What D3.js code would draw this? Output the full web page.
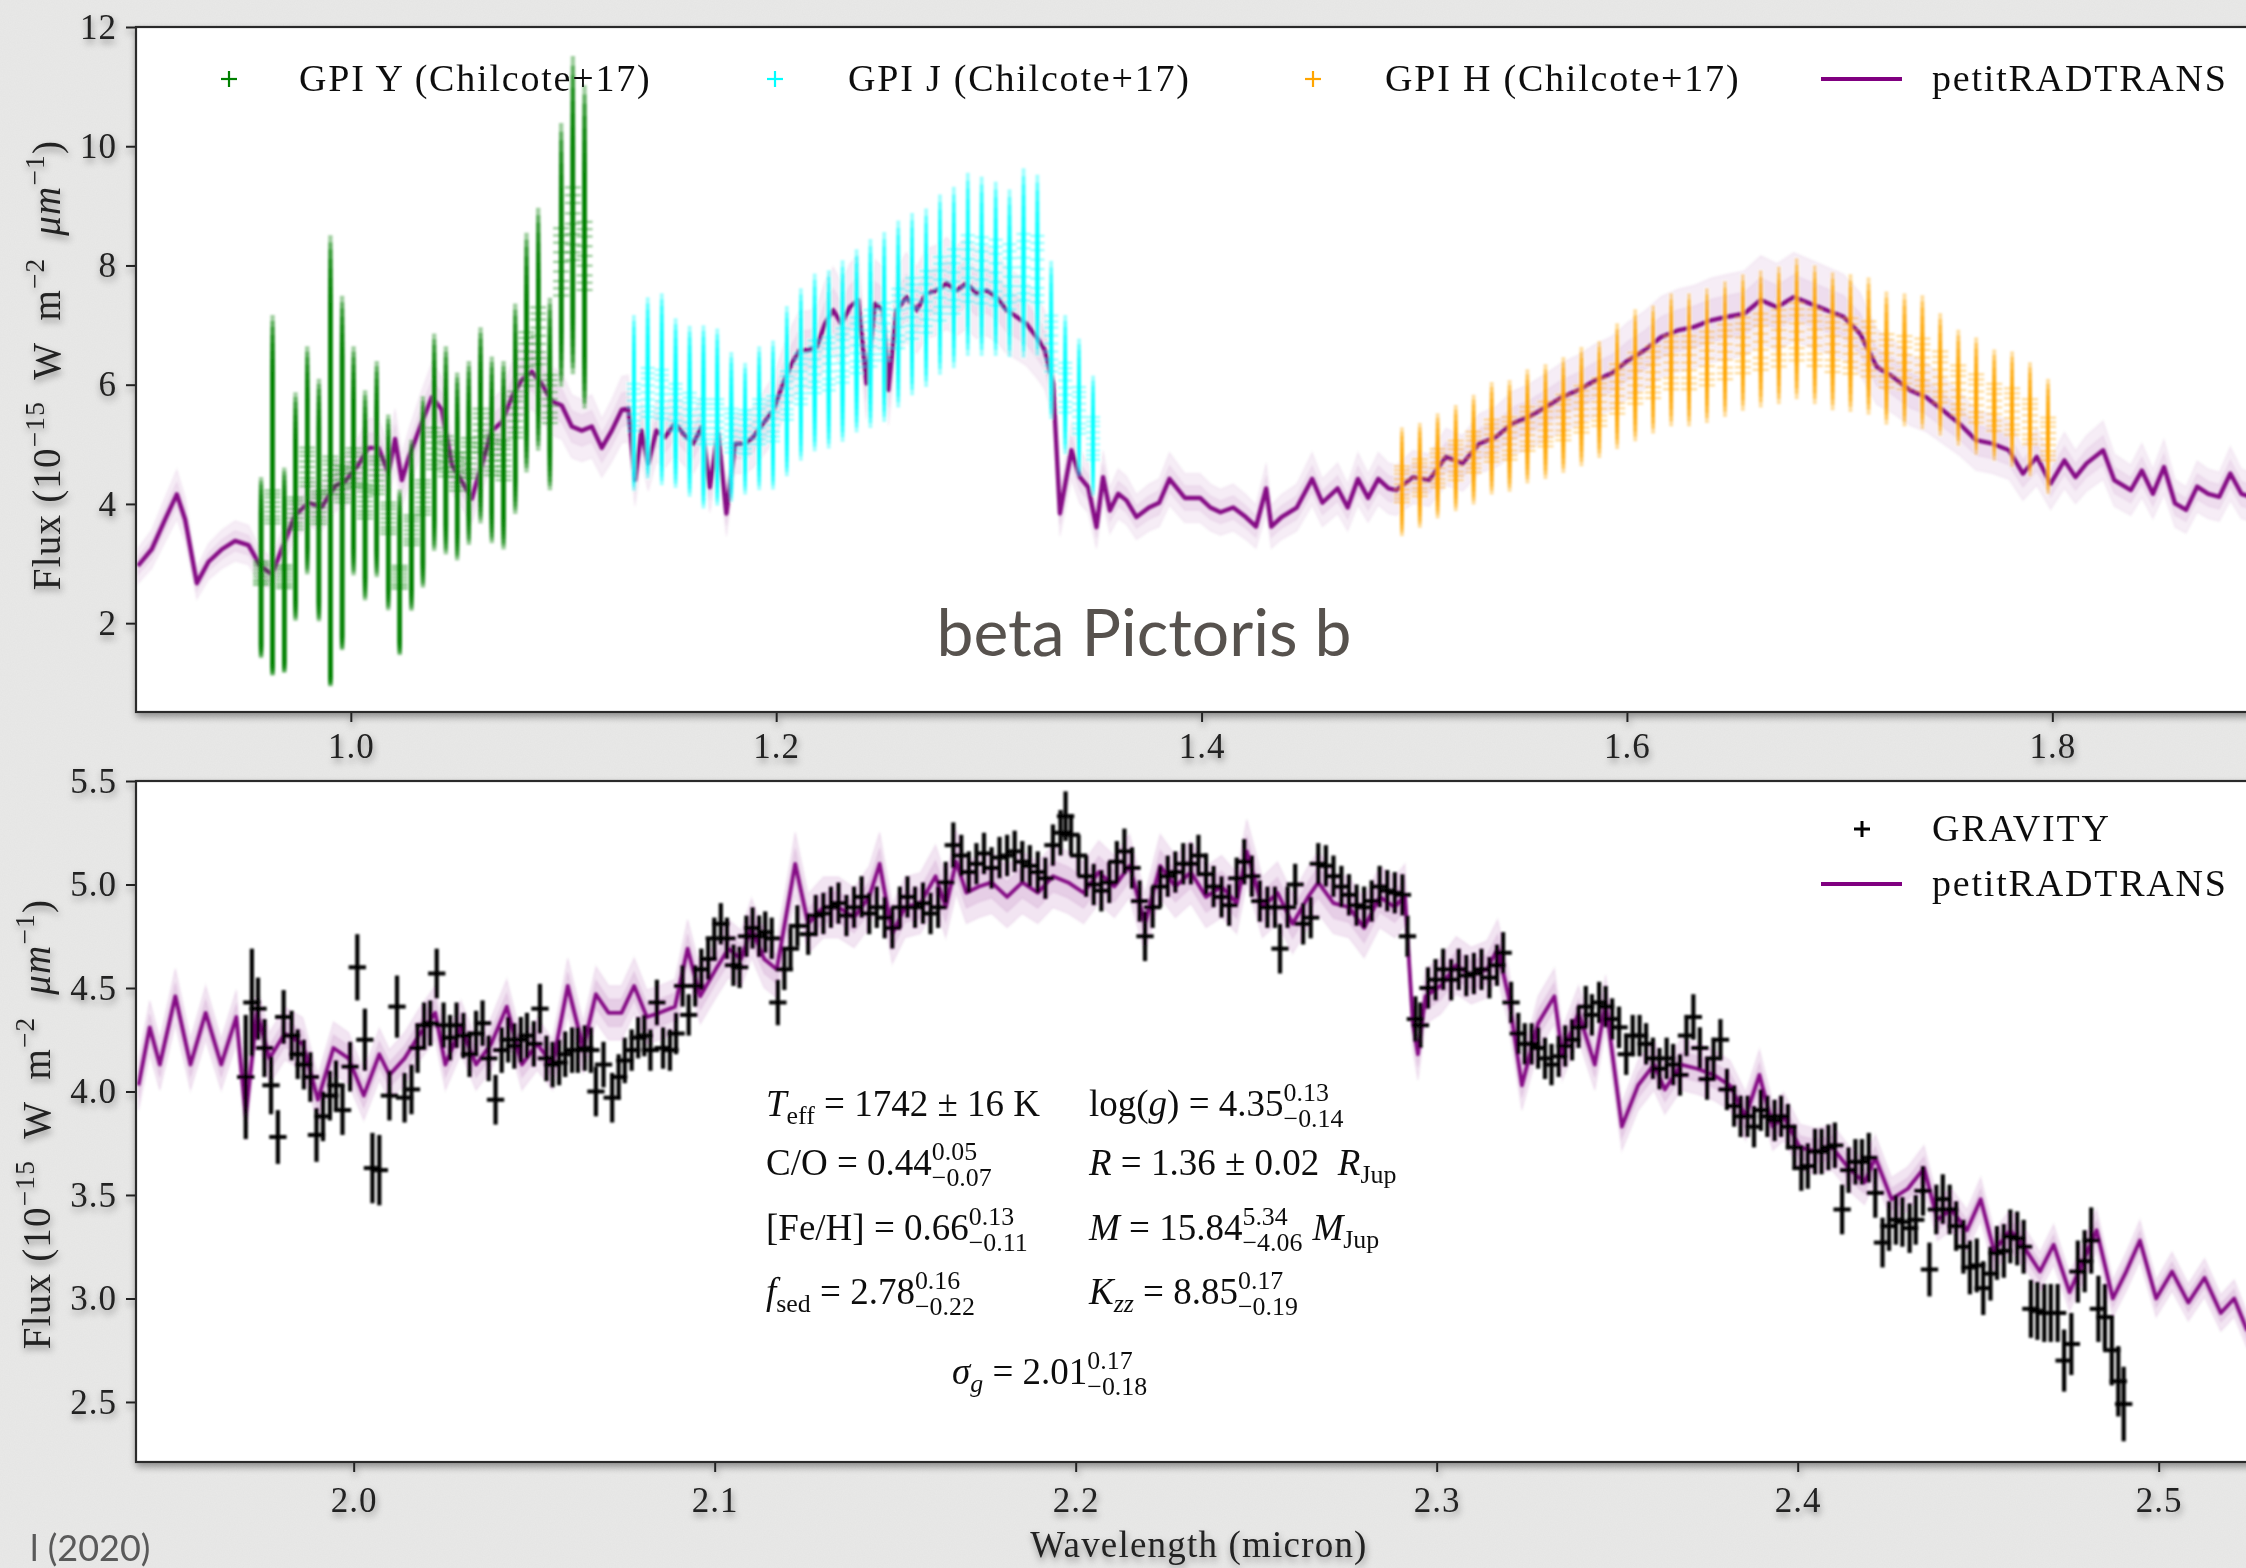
<!DOCTYPE html>
<html>
<head>
<meta charset="utf-8">
<script src="https://cdn.jsdelivr.net/npm/d3@7"></script>
<style>
  html, body { margin: 0; padding: 0; background: #e9e9e8; }
  svg { display: block; }
  svg text { white-space: pre; }
</style>
</head>
<body>
<svg id="fig" width="2246" height="1568"></svg>
<script>
// ---------------- GPI spectra (Chilcote+17) ----------------
const gpiY_wl = [0.9578,0.9632,0.9687,0.9740,0.9795,0.9850,0.9904,0.9959,1.0013,1.0067,1.0122,1.0176,1.0230,1.0285,1.0339,1.0392,1.0447,1.0500,1.0555,1.0610,1.0663,1.0718,1.0773,1.0826,1.0881,1.0936,1.0989,1.1044,1.1099];
const gpiY_flux = [2.84,3.95,2.78,3.84,4.62,3.94,4.48,4.33,4.61,4.04,4.48,3.76,2.77,3.56,4.11,4.93,4.80,4.54,4.77,5.23,4.82,4.73,5.50,6.43,6.82,5.76,8.06,8.70,8.16];
const gpiY_err = [1.32,2.75,1.53,1.65,1.59,1.76,3.47,2.67,1.60,1.48,1.50,1.38,1.20,1.19,1.32,1.48,1.41,1.26,1.21,1.28,1.23,1.25,1.38,1.56,1.56,1.21,1.65,2.06,2.14];

const gpiJ_wl = [1.1331,1.1396,1.1462,1.1527,1.1593,1.1658,1.1723,1.1789,1.1854,1.1920,1.1985,1.2050,1.2116,1.2181,1.2247,1.2312,1.2378,1.2443,1.2508,1.2574,1.2639,1.2705,1.2770,1.2835,1.2901,1.2966,1.3032,1.3097,1.3163,1.3228,1.3293,1.3359,1.3424,1.3490];
const gpiJ_flux = [5.62,5.87,5.84,5.62,5.48,5.38,5.38,5.23,5.21,5.38,5.43,5.82,6.10,6.30,6.35,6.49,6.66,6.78,6.89,7.11,7.28,7.39,7.61,7.73,7.95,7.92,7.88,7.81,7.97,7.94,6.69,5.95,5.57,5.10];
const gpiJ_err = [1.08,1.11,1.20,1.03,1.05,1.16,1.11,0.89,0.74,0.83,0.87,1.02,1.02,1.05,1.05,1.07,1.07,1.11,1.11,1.07,1.02,0.98,0.98,0.98,0.98,0.95,0.91,0.86,1.03,0.96,0.86,0.75,0.76,0.65];

const gpiH_wl = [1.4942,1.5026,1.5110,1.5195,1.5279,1.5364,1.5448,1.5532,1.5617,1.5701,1.5786,1.5870,1.5954,1.6039,1.6123,1.6208,1.6292,1.6376,1.6461,1.6545,1.6629,1.6714,1.6798,1.6883,1.6967,1.7051,1.7136,1.7220,1.7305,1.7389,1.7473,1.7558,1.7642,1.7727,1.7811,1.7895,1.7980];
const gpiH_flux = [4.33,4.44,4.60,4.73,4.87,5.06,5.10,5.26,5.34,5.45,5.59,5.71,5.93,6.11,6.21,6.37,6.37,6.44,6.55,6.66,6.72,6.78,6.89,6.79,6.68,6.65,6.60,6.40,6.37,6.33,6.13,5.91,5.77,5.62,5.55,5.38,5.09];
const gpiH_err = [0.61,0.57,0.56,0.56,0.58,0.59,0.58,0.59,0.59,0.59,0.61,0.58,0.64,0.68,0.64,0.67,0.67,0.68,0.68,0.68,0.68,0.68,0.70,0.69,0.69,0.69,0.69,0.67,0.67,0.68,0.60,0.56,0.58,0.54,0.58,0.58,0.61];

// posterior draws of the per-band flux scaling factor
const scaleSamples = [0.93,0.945,0.96,0.98,1.00,1.02,1.04,1.055,1.07];

// ---------------- petitRADTRANS best fit, 0.9-1.9 micron ----------------
const modelTop_wl = [0.8999,0.9064,0.9127,0.9182,0.9221,0.9276,0.9331,0.9394,0.9456,0.9519,0.9574,0.9629,0.9683,0.9738,0.9801,0.9864,0.9926,0.9973,1.0036,1.0083,1.0130,1.0177,1.0208,1.0240,1.0275,1.0334,1.0381,1.0428,1.0475,1.0522,1.0569,1.0616,1.0663,1.0710,1.0757,1.0804,1.0851,1.0898,1.0945,1.0992,1.1039,1.1086,1.1133,1.1180,1.1227,1.1274,1.1305,1.1336,1.1367,1.1398,1.1437,1.1477,1.1524,1.1563,1.1610,1.1649,1.1688,1.1727,1.1766,1.1806,1.1853,1.1892,1.1939,1.1986,1.2033,1.2072,1.2111,1.2150,1.2190,1.2229,1.2268,1.2307,1.2346,1.2385,1.2425,1.2464,1.2503,1.2527,1.2566,1.2613,1.2660,1.2707,1.2754,1.2801,1.2848,1.2895,1.2942,1.2989,1.3036,1.3083,1.3130,1.3177,1.3224,1.3263,1.3302,1.3334,1.3388,1.3428,1.3467,1.3506,1.3537,1.3569,1.3608,1.3647,1.3694,1.3753,1.3801,1.3849,1.3921,1.3993,1.4041,1.4089,1.4149,1.4208,1.4256,1.4304,1.4328,1.4376,1.4448,1.4520,1.4568,1.4640,1.4687,1.4735,1.4783,1.4831,1.4879,1.4916,1.4994,1.5071,1.5149,1.5228,1.5305,1.5383,1.5461,1.5539,1.5617,1.5694,1.5772,1.5850,1.5928,1.6006,1.6084,1.6161,1.6239,1.6317,1.6395,1.6473,1.6551,1.6629,1.6706,1.6784,1.6862,1.6940,1.7018,1.7096,1.7174,1.7251,1.7329,1.7407,1.7485,1.7563,1.7641,1.7719,1.7797,1.7862,1.7927,1.7992,1.8057,1.8109,1.8161,1.8239,1.8291,1.8369,1.8421,1.8473,1.8525,1.8577,1.8629,1.8681,1.8733,1.8785,1.8837,1.8889,1.8950];
const modelTop_flux = [2.96,3.24,3.74,4.16,3.74,2.67,3.03,3.24,3.38,3.31,2.96,2.82,3.31,3.81,4.02,3.95,4.30,4.38,4.66,4.94,4.94,4.52,5.09,4.40,4.80,5.37,5.79,5.58,4.66,4.38,4.09,4.66,5.23,5.37,5.79,6.08,6.22,6.01,5.72,5.65,5.30,5.23,5.30,4.94,5.23,5.58,5.60,4.40,5.23,4.68,5.23,5.12,5.35,5.18,5.01,5.29,4.28,5.18,3.84,5.01,5.01,5.12,5.35,5.57,6.02,6.35,6.58,6.58,6.63,7.02,7.25,7.02,7.30,7.42,6.02,7.36,7.25,5.91,7.25,7.47,7.25,7.53,7.58,7.70,7.58,7.70,7.53,7.58,7.47,7.25,7.14,7.02,6.80,6.58,6.02,3.84,4.90,4.45,4.28,3.61,4.45,3.89,4.17,4.06,3.78,3.94,4.02,4.42,4.10,4.10,3.94,3.86,3.94,3.78,3.62,4.26,3.62,3.78,3.94,4.42,4.02,4.26,3.94,4.42,4.10,4.42,4.26,4.23,4.45,4.40,4.79,4.68,5.01,5.12,5.35,5.46,5.62,5.79,5.91,6.07,6.19,6.41,6.58,6.80,6.91,6.97,7.08,7.14,7.19,7.42,7.30,7.47,7.36,7.25,7.14,6.86,6.30,6.13,5.91,5.79,5.57,5.35,5.07,5.01,4.90,4.51,4.79,4.34,4.73,4.45,4.68,4.90,4.40,4.23,4.56,4.17,4.62,4.01,3.90,4.29,4.17,4.12,4.51,4.17,4.10];

// ---------------- GRAVITY K-band spectrum ----------------
const gravity_wl = [1.9701,1.9718,1.9735,1.9753,1.9771,1.9790,1.9806,1.9828,1.9845,1.9862,1.9880,1.9897,1.9915,1.9934,1.9951,1.9969,1.9990,2.0010,2.0031,2.0052,2.0071,2.0099,2.0120,2.0141,2.0160,2.0177,2.0195,2.0212,2.0230,2.0249,2.0267,2.0285,2.0304,2.0321,2.0339,2.0357,2.0374,2.0393,2.0410,2.0428,2.0445,2.0463,2.0480,2.0499,2.0516,2.0534,2.0551,2.0569,2.0586,2.0605,2.0621,2.0640,2.0657,2.0671,2.0692,2.0716,2.0734,2.0751,2.0770,2.0788,2.0805,2.0822,2.0840,2.0857,2.0876,2.0893,2.0911,2.0928,2.0946,2.0963,2.0982,2.0999,2.1017,2.1034,2.1052,2.1069,2.1088,2.1105,2.1123,2.1140,2.1158,2.1175,2.1193,2.1210,2.1229,2.1259,2.1280,2.1301,2.1322,2.1343,2.1365,2.1386,2.1407,2.1428,2.1449,2.1471,2.1492,2.1513,2.1534,2.1555,2.1577,2.1598,2.1619,2.1640,2.1661,2.1683,2.1704,2.1725,2.1746,2.1767,2.1789,2.1810,2.1831,2.1852,2.1873,2.1895,2.1916,2.1937,2.1958,2.1972,2.1987,2.2008,2.2029,2.2050,2.2071,2.2093,2.2114,2.2135,2.2156,2.2177,2.2192,2.2213,2.2234,2.2255,2.2276,2.2298,2.2319,2.2340,2.2361,2.2382,2.2404,2.2425,2.2446,2.2467,2.2488,2.2510,2.2531,2.2552,2.2566,2.2587,2.2608,2.2630,2.2651,2.2672,2.2693,2.2714,2.2736,2.2757,2.2778,2.2799,2.2820,2.2842,2.2863,2.2884,2.2905,2.2919,2.2941,2.2955,2.2976,2.2997,2.3018,2.3040,2.3061,2.3082,2.3103,2.3124,2.3146,2.3167,2.3184,2.3206,2.3226,2.3244,2.3263,2.3281,2.3300,2.3318,2.3338,2.3356,2.3375,2.3393,2.3413,2.3430,2.3450,2.3468,2.3486,2.3505,2.3525,2.3543,2.3562,2.3580,2.3599,2.3617,2.3637,2.3655,2.3674,2.3692,2.3711,2.3729,2.3749,2.3767,2.3786,2.3804,2.3824,2.3842,2.3861,2.3879,2.3898,2.3916,2.3936,2.3954,2.3973,2.3991,2.4010,2.4028,2.4048,2.4066,2.4085,2.4103,2.4123,2.4141,2.4160,2.4178,2.4197,2.4215,2.4235,2.4253,2.4272,2.4290,2.4310,2.4327,2.4347,2.4365,2.4384,2.4402,2.4421,2.4439,2.4459,2.4477,2.4496,2.4514,2.4534,2.4552,2.4571,2.4589,2.4608,2.4626,2.4646,2.4664,2.4683,2.4701,2.4720,2.4738,2.4758,2.4776,2.4795,2.4813,2.4833,2.4851,2.4870,2.4888,2.4903];
const gravity_flux = [4.07,4.43,4.40,4.21,4.03,3.78,4.36,4.27,4.18,4.13,4.07,3.79,3.88,3.98,4.03,3.91,4.12,4.60,4.25,3.63,3.62,3.98,4.41,3.97,4.01,4.21,4.32,4.33,4.57,4.32,4.26,4.32,4.27,4.18,4.28,4.33,4.16,3.96,4.20,4.25,4.22,4.25,4.27,4.23,4.40,4.16,4.13,4.14,4.18,4.20,4.20,4.21,4.20,4.00,4.13,3.97,4.07,4.15,4.20,4.26,4.27,4.20,4.43,4.21,4.20,4.28,4.51,4.37,4.51,4.59,4.64,4.74,4.81,4.74,4.61,4.60,4.75,4.79,4.75,4.77,4.74,4.43,4.59,4.69,4.80,4.76,4.85,4.86,4.89,4.91,4.85,4.89,4.94,4.86,4.89,4.84,4.79,4.89,4.94,4.89,4.91,4.86,4.89,5.01,5.19,5.14,5.06,5.10,5.15,5.08,5.13,5.14,5.16,5.11,5.09,5.06,5.03,5.19,5.25,5.33,5.24,5.14,5.04,5.00,4.97,5.01,5.11,5.16,5.08,4.92,4.75,4.89,4.99,5.04,5.06,5.10,5.10,5.14,5.05,4.99,4.94,4.90,5.03,5.11,5.04,4.92,4.89,4.89,4.69,4.89,5.00,4.81,4.84,5.10,5.09,5.04,4.99,4.95,4.90,4.89,4.92,4.99,4.97,4.96,4.95,4.75,4.35,4.32,4.50,4.54,4.59,4.54,4.59,4.56,4.57,4.59,4.55,4.61,4.67,4.43,4.28,4.23,4.23,4.21,4.16,4.13,4.17,4.22,4.25,4.31,4.41,4.37,4.43,4.41,4.35,4.31,4.18,4.27,4.27,4.23,4.16,4.11,4.16,4.13,4.08,4.27,4.36,4.21,4.06,4.16,4.25,4.01,3.93,3.88,3.88,3.83,3.91,3.88,3.86,3.88,3.83,3.73,3.63,3.64,3.71,3.71,3.73,3.74,3.43,3.62,3.66,3.66,3.68,3.51,3.27,3.35,3.38,3.37,3.34,3.38,3.52,3.14,3.43,3.48,3.43,3.35,3.25,3.15,3.16,3.05,3.12,3.22,3.23,3.30,3.29,3.25,2.95,2.94,2.93,2.93,2.93,2.70,2.78,3.13,3.18,3.28,2.95,2.91,2.75,2.60,2.49];
const gravity_err = [0.30,0.26,0.15,0.14,0.14,0.13,0.13,0.12,0.12,0.12,0.12,0.13,0.12,0.12,0.12,0.12,0.12,0.16,0.15,0.17,0.17,0.12,0.15,0.12,0.12,0.12,0.11,0.11,0.12,0.11,0.11,0.11,0.11,0.11,0.11,0.11,0.11,0.12,0.11,0.11,0.11,0.11,0.11,0.11,0.12,0.11,0.11,0.11,0.11,0.11,0.11,0.11,0.11,0.12,0.11,0.12,0.11,0.11,0.10,0.10,0.10,0.10,0.11,0.10,0.10,0.10,0.10,0.10,0.10,0.10,0.10,0.10,0.10,0.10,0.10,0.10,0.10,0.10,0.10,0.10,0.10,0.11,0.10,0.10,0.10,0.10,0.10,0.10,0.10,0.10,0.10,0.10,0.10,0.10,0.10,0.10,0.10,0.10,0.10,0.10,0.10,0.10,0.10,0.10,0.11,0.10,0.10,0.10,0.10,0.10,0.10,0.10,0.10,0.10,0.10,0.10,0.10,0.10,0.11,0.12,0.10,0.10,0.10,0.10,0.10,0.10,0.10,0.11,0.10,0.10,0.12,0.10,0.10,0.10,0.10,0.10,0.10,0.10,0.10,0.10,0.10,0.10,0.10,0.11,0.10,0.10,0.10,0.10,0.12,0.10,0.10,0.10,0.10,0.10,0.10,0.10,0.10,0.10,0.10,0.10,0.10,0.10,0.10,0.10,0.10,0.10,0.11,0.11,0.10,0.10,0.10,0.10,0.10,0.10,0.10,0.10,0.10,0.10,0.10,0.10,0.10,0.10,0.10,0.10,0.10,0.10,0.10,0.10,0.10,0.10,0.10,0.10,0.10,0.10,0.10,0.10,0.10,0.10,0.10,0.10,0.10,0.10,0.10,0.10,0.10,0.10,0.11,0.10,0.10,0.10,0.10,0.10,0.10,0.10,0.10,0.10,0.10,0.10,0.10,0.10,0.11,0.11,0.11,0.11,0.11,0.11,0.11,0.11,0.12,0.11,0.11,0.11,0.12,0.12,0.12,0.12,0.12,0.12,0.12,0.12,0.12,0.13,0.12,0.12,0.12,0.12,0.13,0.13,0.13,0.13,0.13,0.13,0.13,0.13,0.13,0.13,0.14,0.14,0.14,0.14,0.14,0.15,0.15,0.15,0.15,0.16,0.16,0.16,0.17,0.17,0.18];
const gravityBinHalf = 0.0024;

// ---------------- petitRADTRANS best fit, K band ----------------
const modelBot_wl = [1.9404,1.9435,1.9463,1.9506,1.9548,1.9590,1.9633,1.9675,1.9701,1.9732,1.9767,1.9809,1.9859,1.9901,1.9944,1.9986,2.0028,2.0071,2.0099,2.0141,2.0184,2.0226,2.0254,2.0297,2.0339,2.0381,2.0424,2.0466,2.0508,2.0551,2.0593,2.0636,2.0671,2.0706,2.0742,2.0777,2.0812,2.0847,2.0890,2.0925,2.0960,2.1003,2.1038,2.1073,2.1102,2.1137,2.1172,2.1223,2.1259,2.1301,2.1343,2.1386,2.1428,2.1457,2.1492,2.1527,2.1570,2.1612,2.1640,2.1669,2.1697,2.1732,2.1767,2.1810,2.1852,2.1895,2.1937,2.1979,2.2022,2.2064,2.2107,2.2149,2.2192,2.2234,2.2276,2.2319,2.2361,2.2404,2.2446,2.2474,2.2517,2.2559,2.2601,2.2644,2.2672,2.2714,2.2757,2.2799,2.2842,2.2884,2.2912,2.2934,2.2948,2.2969,2.3011,2.3054,2.3096,2.3139,2.3169,2.3199,2.3236,2.3281,2.3326,2.3348,2.3393,2.3438,2.3468,2.3513,2.3558,2.3602,2.3632,2.3677,2.3722,2.3767,2.3812,2.3856,2.3894,2.3931,2.3961,2.4006,2.4051,2.4096,2.4141,2.4185,2.4215,2.4260,2.4305,2.4350,2.4387,2.4425,2.4469,2.4507,2.4544,2.4589,2.4634,2.4671,2.4709,2.4753,2.4791,2.4828,2.4873,2.4910,2.4948,2.4993,2.5037,2.5082,2.5127,2.5172,2.5209,2.5244,2.5300];
const modelBot_flux = [4.03,4.31,4.13,4.46,4.13,4.38,4.13,4.36,3.88,4.38,4.16,4.28,4.23,3.96,4.21,4.16,3.98,4.18,4.08,4.16,4.28,4.38,4.13,4.31,4.13,4.23,4.41,4.13,4.23,4.13,4.51,4.21,4.47,4.38,4.38,4.51,4.36,4.38,4.41,4.69,4.46,4.59,4.69,4.64,4.79,4.64,4.59,5.10,4.81,4.89,4.89,4.84,4.94,5.10,4.76,4.89,4.91,5.04,4.89,5.11,4.96,4.99,5.01,4.94,5.01,4.96,5.04,5.01,4.96,5.06,4.99,5.09,4.81,5.09,4.99,5.06,4.94,4.99,4.91,5.16,4.89,4.96,4.81,4.94,5.01,4.91,4.89,4.79,4.94,4.89,4.95,4.33,4.18,4.46,4.51,4.61,4.56,4.59,4.69,4.46,4.03,4.33,4.46,4.18,4.38,4.13,4.43,3.83,4.03,4.13,4.01,4.13,4.11,4.08,4.03,3.88,4.08,3.83,3.88,3.73,3.71,3.73,3.63,3.56,3.68,3.48,3.53,3.63,3.38,3.43,3.33,3.48,3.23,3.33,3.23,3.13,3.26,3.03,3.18,3.33,3.00,3.13,3.28,3.00,3.13,2.98,3.10,2.93,3.00,2.85,2.90];
// spread of the posterior model draws (outer and inner envelopes)
const modelBandTop = [[0.90, 1.10], [0.95, 1.05]];
const modelBandBot = [[0.97, 1.03], [0.985, 1.015]];

// ---------------- axes ----------------
const topXTicks = [1.0,1.2,1.4,1.6,1.8];
const topYTicks = [2,4,6,8,10,12];
const botXTicks = [2.0,2.1,2.2,2.3,2.4,2.5];
const botYTicks = [2.5,3.0,3.5,4.0,4.5,5.0,5.5];

const topLegend = ["GPI Y (Chilcote+17)","GPI J (Chilcote+17)","GPI H (Chilcote+17)","petitRADTRANS"];
const botLegend = ["GRAVITY","petitRADTRANS"];

const C = { Y: "green", J: "cyan", H: "orange", model: "purple", grav: "#000" };
const serif = "'Liberation Serif','Times New Roman',serif";
const sans = "Lato,'Open Sans',sans-serif";

const svg = d3.select("#fig");
const W = 2246, H = 1568;

// ---------- defs ----------
const defs = svg.append("defs");
const sh = defs.append("filter").attr("id", "shadow")
  .attr("x", "-3%").attr("y", "-3%").attr("width", "106%").attr("height", "108%");
sh.append("feDropShadow").attr("dx", 1).attr("dy", 4).attr("stdDeviation", 3.5)
  .attr("flood-color", "#000").attr("flood-opacity", 0.38);
defs.append("filter").attr("id", "soft").append("feGaussianBlur").attr("stdDeviation", 0.8);
const paper = defs.append("filter").attr("id", "paper");
paper.append("feTurbulence").attr("type", "fractalNoise").attr("baseFrequency", 0.85).attr("numOctaves", 2).attr("seed", 3);
paper.append("feColorMatrix").attr("type", "matrix")
  .attr("values", "0 0 0 0 0.45  0 0 0 0 0.45  0 0 0 0 0.45  0 0 0 0.09 0");

// paper background
svg.append("rect").attr("width", W).attr("height", H).attr("fill", "#e9e9e8");
svg.append("rect").attr("width", W).attr("height", H).attr("filter", "url(#paper)");

// ---------- scales ----------
const topBox = { x0: 136, x1: 2265, y0: 27, y1: 712 };
const botBox = { x0: 136, x1: 2267, y0: 781, y1: 1462 };
const xTop = d3.scaleLinear().domain([0.899, 1.900]).range([topBox.x0, topBox.x1]);
const yTop = d3.scaleLinear().domain([0.51, 12]).range([topBox.y1, topBox.y0]);
const xBot = d3.scaleLinear().domain([1.9397, 2.53]).range([botBox.x0, botBox.x1]);
const yBot = d3.scaleLinear().domain([2.21, 5.5]).range([botBox.y1, botBox.y0]);

const fig = svg.append("g").attr("filter", "url(#shadow)");

function clip(id, b) {
  defs.append("clipPath").attr("id", id).append("rect")
    .attr("x", b.x0).attr("y", b.y0).attr("width", b.x1 - b.x0).attr("height", b.y1 - b.y0);
}
clip("clipTop", topBox);
clip("clipBot", botBox);

// text helper: runs of normal / italic text with sub- and superscripts
function runs(g, x, y, size, parts, opts = {}) {
  let cx = x;
  const fill = opts.fill || "#111";
  const mk = (txt, xx, yy, fs, it) => {
    const t = g.append("text").attr("x", xx).attr("y", yy)
      .attr("xml:space", "preserve")
      .attr("font-family", serif).attr("font-size", fs).attr("fill", fill)
      .attr("letter-spacing", opts.ls || 0)
      .style("font-style", it ? "italic" : "normal").text(txt);
    return t.node().getComputedTextLength();
  };
  for (const p of parts) {
    if (typeof p === "string") cx += mk(p, cx, y, size, false);
    else if (p.t !== undefined) cx += mk(p.t, cx, y, size, p.it);
    else {
      let w = 0;
      const both = p.sup !== undefined && p.sub !== undefined;
      if (p.sup !== undefined) w = Math.max(w, mk(p.sup, cx, y - size * (opts.supUp || 0.40), size * 0.7, p.supIt));
      if (p.sub !== undefined) w = Math.max(w, mk(p.sub, cx, y + size * (both ? 0.30 : 0.22), size * 0.7, p.subIt));
      cx += w + (p.pad || 0);
    }
  }
  return cx - x;
}

// ---------- panel frame and axes ----------
function drawAxes(b, xs, ys, xt, yt, xfmt, yfmt, xpad) {
  const g = fig.append("g");
  g.append("rect").attr("x", b.x0).attr("y", b.y0).attr("width", b.x1 - b.x0)
    .attr("height", b.y1 - b.y0).attr("fill", "#fff");
  const ax = g.append("g").attr("transform", `translate(0,${b.y1})`)
    .call(d3.axisBottom(xs).tickValues(xt).tickFormat(xfmt).tickSize(10).tickPadding(xpad));
  const ay = g.append("g").attr("transform", `translate(${b.x0},0)`)
    .call(d3.axisLeft(ys).tickValues(yt).tickFormat(yfmt).tickSize(10).tickPadding(9));
  [ax, ay].forEach(a => {
    a.select(".domain").remove();
    a.selectAll(".tick line").attr("stroke", "#222").attr("stroke-width", 2);
    a.selectAll(".tick text").attr("font-family", serif).attr("font-size", 35)
      .attr("letter-spacing", 1).attr("fill", "#222");
  });
  return g;
}
function drawFrame(b) {
  fig.append("rect").attr("x", b.x0).attr("y", b.y0).attr("width", b.x1 - b.x0)
    .attr("height", b.y1 - b.y0).attr("fill", "none").attr("stroke", "#2a2a2a").attr("stroke-width", 2.2);
}

drawAxes(topBox, xTop, yTop, topXTicks, topYTicks, d3.format(".1f"), d3.format("d"), 11);
drawAxes(botBox, xBot, yBot, botXTicks, botYTicks, d3.format(".1f"), d3.format(".1f"), 15);

// ---------- model spectra: posterior envelope plus best fit ----------
function drawModel(g, wl, flux, xs, ys, bands, bandAlpha, width) {
  const pts = wl.map((w, i) => [w, flux[i]]).filter(d => d[1] !== undefined);
  bands.forEach(([lo, hi]) => {
    g.append("path").datum(pts).attr("fill", C.model).attr("fill-opacity", bandAlpha)
      .attr("stroke", C.model).attr("stroke-opacity", bandAlpha * 0.6).attr("stroke-width", 2)
      .attr("d", d3.area().x(d => xs(d[0])).y0(d => ys(d[1] * lo)).y1(d => ys(d[1] * hi)));
  });
  g.append("path").datum(pts).attr("fill", "none").attr("stroke", C.model)
    .attr("stroke-width", width).attr("stroke-opacity", 0.95).attr("stroke-linejoin", "round")
    .attr("d", d3.line().x(d => xs(d[0])).y(d => ys(d[1])));
}

// ---------- binned photometric spectra with scale-factor draws ----------
function drawBinned(g, wl, flux, err, color, xs, ys, halfW, barW) {
  const pts = wl.map((w, i) => ({ w, f: flux[i], e: err[i] })).filter(d => d.f !== undefined && d.e !== undefined);
  const draws = pts.flatMap(p => scaleSamples.map(s => ({ ...p, s })));
  g.append("g").selectAll("line").data(draws).join("line")
    .attr("x1", d => xs(d.w)).attr("x2", d => xs(d.w))
    .attr("y1", d => ys((d.f - d.e) * d.s)).attr("y2", d => ys((d.f + d.e) * d.s))
    .attr("stroke", color).attr("stroke-width", barW).attr("stroke-opacity", 0.38);
  g.append("g").selectAll("line").data(draws).join("line")
    .attr("x1", d => xs(d.w) - halfW).attr("x2", d => xs(d.w) + halfW)
    .attr("y1", d => ys(d.f * d.s)).attr("y2", d => ys(d.f * d.s))
    .attr("stroke", color).attr("stroke-width", 2.2).attr("stroke-opacity", 0.42);
}

// top panel data
const gTop = fig.append("g").attr("clip-path", "url(#clipTop)").append("g").attr("filter", "url(#soft)");
drawModel(gTop, modelTop_wl, modelTop_flux, xTop, yTop, modelBandTop, 0.07, 4.4);
drawBinned(gTop, gpiY_wl, gpiY_flux, gpiY_err, C.Y, xTop, yTop, 8, 4.4);
drawBinned(gTop, gpiJ_wl, gpiJ_flux, gpiJ_err, C.J, xTop, yTop, 7, 3.8);
drawBinned(gTop, gpiH_wl, gpiH_flux, gpiH_err, C.H, xTop, yTop, 8, 3.8);

// bottom panel data
const gBot = fig.append("g").attr("clip-path", "url(#clipBot)").append("g").attr("filter", "url(#soft)");
drawModel(gBot, modelBot_wl, modelBot_flux, xBot, yBot, modelBandBot, 0.1, 3.8);
const gravPts = gravity_wl.map((w, i) => ({ w, f: gravity_flux[i], e: gravity_err[i] }))
  .filter(d => d.f !== undefined && d.e !== undefined);
gBot.append("g").selectAll("line").data(gravPts).join("line")
  .attr("x1", d => xBot(d.w)).attr("x2", d => xBot(d.w))
  .attr("y1", d => yBot(d.f - d.e)).attr("y2", d => yBot(d.f + d.e))
  .attr("stroke", C.grav).attr("stroke-width", 4.2);
gBot.append("g").selectAll("line").data(gravPts).join("line")
  .attr("x1", d => xBot(d.w - gravityBinHalf)).attr("x2", d => xBot(d.w + gravityBinHalf))
  .attr("y1", d => yBot(d.f)).attr("y2", d => yBot(d.f))
  .attr("stroke", C.grav).attr("stroke-width", 4);

drawFrame(topBox);
drawFrame(botBox);

// ---------- legends ----------
function plusMark(g, x, y, color, r, w) {
  g.append("line").attr("x1", x - r).attr("x2", x + r).attr("y1", y).attr("y2", y).attr("stroke", color).attr("stroke-width", w);
  g.append("line").attr("x1", x).attr("x2", x).attr("y1", y - r).attr("y2", y + r).attr("stroke", color).attr("stroke-width", w);
}
function legendText(g, x, y, txt) {
  g.append("text").attr("x", x).attr("y", y).attr("font-family", serif).attr("font-size", 38)
    .attr("letter-spacing", 1.8).attr("fill", "#111").text(txt);
}
const lg = fig.append("g");
const legY = 79;
plusMark(lg, 229, legY, C.Y, 8, 2.2);
legendText(lg, 299, legY + 12, topLegend[0]);
plusMark(lg, 775, legY, C.J, 8, 2.2);
legendText(lg, 848, legY + 12, topLegend[1]);
plusMark(lg, 1313, legY, C.H, 8, 2.2);
legendText(lg, 1385, legY + 12, topLegend[2]);
lg.append("line").attr("x1", 1821).attr("x2", 1902).attr("y1", legY).attr("y2", legY).attr("stroke", C.model).attr("stroke-width", 3.8);
legendText(lg, 1932, legY + 12, topLegend[3]);

plusMark(lg, 1862, 829, C.grav, 8, 3);
legendText(lg, 1932, 841, botLegend[0]);
lg.append("line").attr("x1", 1821).attr("x2", 1902).attr("y1", 884).attr("y2", 884).attr("stroke", C.model).attr("stroke-width", 3.8);
legendText(lg, 1932, 896, botLegend[1]);

// ---------- axis titles ----------
function yTitle(cx, cy) {
  const outer = fig.append("g").attr("transform", `translate(${cx},${cy}) rotate(-90)`);
  const inner = outer.append("g");
  const w = runs(inner, 0, 0, 39, [
    "Flux (10", { sup: "\u221215" }, "  W  m", { sup: "\u22122" }, "  ",
    { t: "\u03bcm", it: true }, { sup: "\u22121" }, ")"
  ], { ls: 1.2, fill: "#222", supUp: 0.42 });
  inner.attr("transform", `translate(${-w / 2},0)`);
}
yTitle(60, 365);
yTitle(50, 1124);

const xt = fig.append("g");
const xw = runs(xt, 0, 1557, 37, ["Wavelength (micron)"], { ls: 1.2, fill: "#222" });
xt.selectAll("text").attr("x", 1199 - xw / 2);

// ---------- retrieved parameters ----------
const ann = fig.append("g");
const aS = 37;
runs(ann, 766, 1116, aS, [{ t: "T", it: true }, { sub: "eff" }, " = 1742 \u00b1 16 K"]);
runs(ann, 1089, 1116, aS, ["log(", { t: "g", it: true }, ") = 4.35", { sup: "0.13", sub: "\u22120.14" }]);
runs(ann, 766, 1175, aS, ["C/O = 0.44", { sup: "0.05", sub: "\u22120.07" }]);
runs(ann, 1089, 1175, aS, [{ t: "R", it: true }, " = 1.36 \u00b1 0.02  ", { t: "R", it: true }, { sub: "Jup" }]);
runs(ann, 766, 1240, aS, ["[Fe/H] = 0.66", { sup: "0.13", sub: "\u22120.11" }]);
runs(ann, 1089, 1240, aS, [{ t: "M", it: true }, " = 15.84", { sup: "5.34", sub: "\u22124.06", pad: 10 }, { t: "M", it: true }, { sub: "Jup" }]);
runs(ann, 766, 1304, aS, [{ t: "f", it: true }, { sub: "sed" }, " = 2.78", { sup: "0.16", sub: "\u22120.22" }]);
runs(ann, 1089, 1304, aS, [{ t: "K", it: true }, { sub: "zz", subIt: true }, " = 8.85", { sup: "0.17", sub: "\u22120.19" }]);
runs(ann, 952, 1384, aS, [{ t: "\u03c3", it: true }, { sub: "g", subIt: true }, " = 2.01", { sup: "0.17", sub: "\u22120.18" }]);

// ---------- slide captions ----------
svg.append("text").attr("x", 1144).attr("y", 656).attr("text-anchor", "middle")
  .attr("font-family", sans).attr("font-size", 66).attr("fill", "#57524e").text("beta Pictoris b");
svg.append("text").attr("x", 30).attr("y", 1561)
  .attr("font-family", sans).attr("font-size", 36).attr("fill", "#5a5a5a").text("l (2020)");
</script>
</body>
</html>
